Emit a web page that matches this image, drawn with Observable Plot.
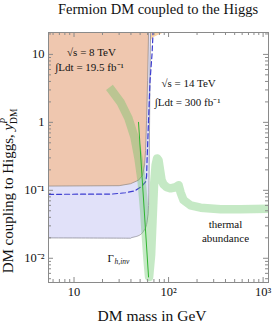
<!DOCTYPE html>
<html><head><meta charset="utf-8">
<script src="https://cdn.jsdelivr.net/npm/d3@7"></script>
<script src="https://cdn.jsdelivr.net/npm/@observablehq/plot@0.6"></script>
<style>
body{margin:0;background:#fff;}
#title{font-family:"Liberation Serif",serif;font-size:14.5px;height:22px;line-height:19px;text-align:center;padding-left:48px;padding-right:5px;box-sizing:border-box;width:273px;color:#111;white-space:nowrap;}
#chart svg{display:block;overflow:visible;}
</style></head><body>
<div id="title">Fermion DM coupled to the Higgs</div>
<div id="chart"></div>
<script>
// ---- axis ticks ----
const xTicks = [10, 100, 1000];
const xTickLabels = ["10", "10²", "10³"];
const xMinorTicks = [6,7,8,9,20,30,40,50,60,70,80,90,200,300,400,500,600,700,800,900];
const yTicks = [0.01, 0.1, 1, 10];
const yTickLabels = ["10⁻²", "10⁻¹", "1", "10"];
const yMinorTicks = [0.005,0.006,0.007,0.008,0.009,0.02,0.03,0.04,0.05,0.06,0.07,0.08,0.09,0.2,0.3,0.4,0.5,0.6,0.7,0.8,0.9,2,3,4,5,6,7,8,9,20];

// ---- 8 TeV exclusion (orange) boundary ----
const lhc8Mass     = [3, 30, 39.6, 48.1, 53.1, 55.7, 57.1, 58.5, 60, 61.4, 62, 62, 3];
const lhc8Coupling = [0.115, 0.117, 0.125, 0.141, 0.167, 0.235, 0.385, 1.07, 4.15, 21, 30, 30, 30];
// light orange sliver at large coupling
const lhc8TopMass     = [55, 61, 62.9, 67.7, 78.4, 88.5, 95, 95, 55];
const lhc8TopCoupling = [8, 8, 15, 17.8, 19.7, 21, 23, 30, 30];

// ---- 14 TeV reach (blue) boundary: Gamma_h,inv ----
const lhc14Mass     = [3, 39.6, 46.9, 54.4, 59.2, 61.4, 62.1, 63, 64.5, 65, 3];
const lhc14Coupling = [0.02, 0.0197, 0.0212, 0.025, 0.034, 0.06, 0.14, 1.07, 21, 30, 30];

// ---- 14 TeV dashed projection ----
const dashMass     = [3, 25, 35, 44, 48.5, 52.7, 57.1, 58.5, 59.2, 61.4, 63.7, 66.9, 68.5, 69];
const dashCoupling = [0.087, 0.088, 0.092, 0.098, 0.107, 0.117, 0.133, 0.16, 0.276, 1.07, 4.15, 10.3, 21, 25];

// ---- thermal abundance band ----
const thermalMass     = [23.7, 31.1, 37.7, 43.7, 48.1, 51.8, 55.2, 57.9, 60, 62.2, 65.3, 67.7, 70.2, 72.9, 75.6, 78.4, 81.3, 84.3, 88.5, 95.2, 105, 118.6, 127.6, 134, 144, 171, 218, 355, 578, 1144, 1300];
const thermalCoupling = [3.27, 1.97, 1.14, 0.6, 0.295, 0.141, 0.051, 0.0184, 0.0093, 0.0053, 0.011, 0.036, 0.119, 0.234, 0.295, 0.276, 0.196, 0.141, 0.122, 0.111, 0.107, 0.111, 0.119, 0.093, 0.0716, 0.06, 0.0555, 0.0527, 0.0527, 0.0534, 0.0534];

// ---- thin green line ----
const greenLineMass     = [48.1, 54.4, 61.4];
const greenLineCoupling = [1.0, 0.072, 0.0053];

// ---- annotations ----
const noteText     = ["√s = 8 TeV", "∫Ldt = 19.5 fb⁻¹", "√s = 14 TeV", "∫Ldt = 300 fb⁻¹", "thermal", "abundance"];
const noteMass     = [15.3, 14.6, 162.7, 158.8, 400, 400];
const noteCoupling = [10.7, 6.5, 3.74, 1.97, 0.0316, 0.0198];
const gammaMass = 22.6, gammaCoupling = 0.01;

const zip = (xs, ys) => xs.map((x, i) => ({x, y: ys[i]}));
const W = 273, H = 305, mT = 10, mB = 45, mL = 48, mR = 5;
const innerW = W - mL - mR, innerH = H - mT - mB;
const serif = "Liberation Serif, Times New Roman, serif";
const frameCol = "#8a8a8a";

const plot = Plot.plot({
  width: W, height: H,
  marginTop: mT, marginBottom: mB, marginLeft: mL, marginRight: mR,
  style: {fontFamily: serif, fontSize: "12px", color: "#111", background: "#fff", overflow: "visible"},
  x: {type: "log", domain: [5.37, 1140], axis: null},
  y: {type: "log", domain: [0.0044, 21], axis: null},
  marks: [
    Plot.line(zip(lhc8TopMass, lhc8TopCoupling), {x: "x", y: "y", fill: "#fbd2a6", stroke: "none", clip: true}),
    Plot.line(zip(lhc14Mass, lhc14Coupling), {x: "x", y: "y", fill: "#e1e1f9", stroke: "none", clip: true}),
    Plot.line(zip(lhc8Mass, lhc8Coupling), {x: "x", y: "y", fill: "#efc7af", stroke: "none", clip: true}),
    Plot.line(zip(lhc14Mass, lhc14Coupling).slice(0, 10), {x: "x", y: "y", stroke: "#8f8f99", strokeWidth: 0.8, curve: "monotone-y", clip: true}),
    Plot.line(zip(lhc8Mass, lhc8Coupling).slice(0, 11), {x: "x", y: "y", stroke: "#9a8f88", strokeWidth: 0.8, clip: true}),
    Plot.line(zip(dashMass, dashCoupling), {x: "x", y: "y", stroke: "#3c3cd0", strokeWidth: 1.2, strokeDasharray: "5,3", clip: true}),
    Plot.line(zip(thermalMass, thermalCoupling), {x: "x", y: "y", stroke: "#5ec35e", strokeOpacity: 0.36, strokeWidth: 8.5, strokeLinejoin: "round", strokeLinecap: "butt", clip: true}),
    Plot.line(zip(greenLineMass, greenLineCoupling), {x: "x", y: "y", stroke: "#2fb52f", strokeWidth: 1, clip: true}),
    Plot.text(noteText.map((t, i) => ({t, x: noteMass[i], y: noteCoupling[i]})), {x: "x", y: "y", text: "t", fontSize: 11, fill: "#111"}),
    Plot.text([{x: gammaMass, y: gammaCoupling}], {x: "x", y: "y", text: () => "Γ", textAnchor: "start", fontSize: 11, fill: "#111"}),
    Plot.text([{x: gammaMass, y: gammaCoupling}], {x: "x", y: "y", text: () => "h,inv", textAnchor: "start", dx: 7, dy: 3, fontSize: 7.5, fontStyle: "italic", fill: "#111"}),
    // ticks (inward, all four sides)
    Plot.tickX(xTicks, {x: d => d, stroke: frameCol, insetTop: innerH - 5}),
    Plot.tickX(xTicks, {x: d => d, stroke: frameCol, insetBottom: innerH - 5}),
    Plot.tickX(xMinorTicks, {x: d => d, stroke: frameCol, insetTop: innerH - 3}),
    Plot.tickX(xMinorTicks, {x: d => d, stroke: frameCol, insetBottom: innerH - 3}),
    Plot.tickY(yTicks, {y: d => d, stroke: frameCol, insetRight: innerW - 5}),
    Plot.tickY(yTicks, {y: d => d, stroke: frameCol, insetLeft: innerW - 5}),
    Plot.tickY(yMinorTicks, {y: d => d, stroke: frameCol, insetRight: innerW - 3}),
    Plot.tickY(yMinorTicks, {y: d => d, stroke: frameCol, insetLeft: innerW - 3}),
    Plot.axisX(xTicks, {anchor: "bottom", tickSize: 0, tickPadding: 5, tickFormat: (d) => xTickLabels[xTicks.indexOf(d)], label: null, fontSize: 12.5}),
    Plot.axisY(yTicks, {anchor: "left", tickSize: 0, tickPadding: 4, tickFormat: (d) => yTickLabels[yTicks.indexOf(d)], label: null, fontSize: 12.5}),
    Plot.frame({stroke: frameCol, strokeWidth: 1})
  ]
});
document.getElementById("chart").appendChild(plot);

// axis titles with real text + sub/superscripts
const svg = d3.select(plot);
svg.append("text")
  .attr("x", 152).attr("y", H - 6)
  .attr("text-anchor", "middle").attr("font-family", serif).attr("font-size", 15.5).attr("fill", "#111")
  .text("DM mass in GeV");
const yl = svg.append("text")
  .attr("transform", `translate(13,${mT + innerH / 2 + 34}) rotate(-90)`)
  .attr("text-anchor", "middle").attr("font-family", serif).attr("font-size", 15).attr("fill", "#111");
yl.append("tspan").text("DM coupling to Higgs, ");
yl.append("tspan").attr("font-style", "italic").text("y");
yl.append("tspan").attr("font-size", 9.5).attr("font-style", "italic").attr("dy", -6).text("P");
yl.append("tspan").attr("font-size", 9.5).attr("dx", -6).attr("dy", 10).text("DM");
</script>
</body></html>
